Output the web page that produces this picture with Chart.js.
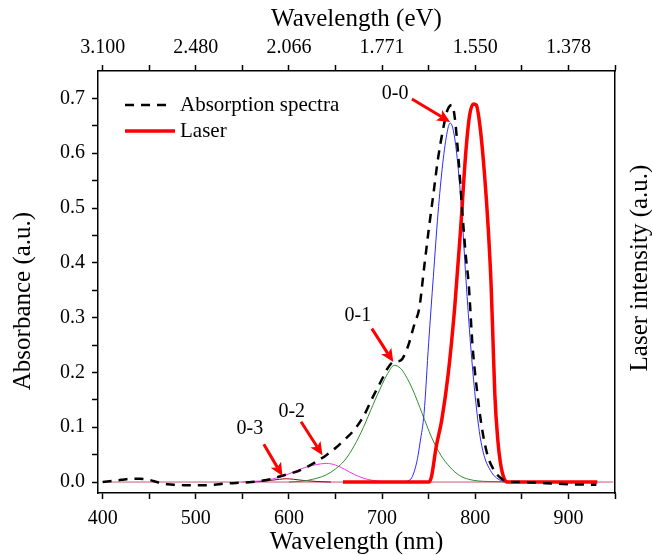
<!DOCTYPE html>
<html><head><meta charset="utf-8">
<script src="https://cdn.jsdelivr.net/npm/chart.js@4"></script>
<style>html,body{margin:0;padding:0;background:#fff;}</style>
</head><body>
<canvas id="c" width="652" height="555"></canvas>
<script>
// ---- axis ticks ----
const wavelengthTicks = [400,450,500,550,600,650,700,750,800,850,900,950];
const majorWavelengths = [400,500,600,700,800,900];
const topTickLabels = ['3.100','2.480','2.066','1.771','1.550','1.378'];
const absorbanceTicks = [0,0.05,0.1,0.15,0.2,0.25,0.3,0.35,0.4,0.45,0.5,0.55,0.6,0.65,0.7];
const absorbanceLabels = ['0.0','','0.1','','0.2','','0.3','','0.4','','0.5','','0.6','','0.7'];

// ---- series ----
const absX = [400,410,420,430,440,450,460,470,480,490,500,510,520,530,540,550,560,570,580,590,600,610,620,630,640,650,660,670,680,690,700,705,712,720,727,735,740,745,750,755,760,765,770,775,778,782,786,790,793,797,802,807,813,820,829,840,850,875,900,930];
const absY = [0.000,0.002,0.004,0.006,0.006,0.004,-0.001,-0.004,-0.005,-0.006,-0.006,-0.006,-0.005,-0.003,-0.002,-0.001,0.000,0.002,0.005,0.010,0.015,0.020,0.028,0.038,0.049,0.062,0.078,0.095,0.120,0.155,0.188,0.205,0.219,0.222,0.244,0.290,0.318,0.390,0.460,0.525,0.590,0.640,0.678,0.688,0.665,0.590,0.495,0.410,0.360,0.250,0.165,0.100,0.050,0.022,0.005,0.000,0.000,-0.002,-0.004,-0.005];

const laserX = [658,750,753,758,764,771,778,784,790,794,798,801,805,810,814,817,819,821,824,827,831,835,931];
const laserY = [0,0,0.010,0.064,0.113,0.198,0.320,0.455,0.605,0.670,0.690,0.688,0.650,0.560,0.460,0.360,0.260,0.160,0.080,0.035,0.006,0,0];

const peak00X = [720,730,737,741,745,750,755,760,765,770,773,776,780,785,790,795,800,805,810,815,820,826,835];
const peak00Y = [0.000,0.004,0.035,0.075,0.125,0.255,0.375,0.490,0.580,0.640,0.655,0.645,0.600,0.505,0.370,0.250,0.155,0.085,0.045,0.025,0.012,0.004,0.000];

const peak01X = [600,610,620,630,640,650,660,670,680,690,700,705,713,720,725,733,743,753,763,773,783,793,803,815,840];
const peak01Y = [0.000,0.001,0.003,0.007,0.013,0.024,0.040,0.066,0.100,0.140,0.178,0.195,0.213,0.207,0.195,0.168,0.125,0.082,0.049,0.027,0.012,0.005,0.002,0.001,0.000];

const peak02X = [550,560,575,590,600,610,620,630,640,650,660,670,680,690,700,715];
const peak02Y = [0.000,0.001,0.003,0.009,0.015,0.022,0.028,0.032,0.034,0.031,0.023,0.014,0.007,0.003,0.001,0.000];

const peak03X = [555,570,580,590,597,605,615,630,645];
const peak03Y = [0.000,0.001,0.003,0.005,0.006,0.005,0.003,0.001,0.000];

const baseX = [400,948];
const baseY = [0,0];

// ---- annotations (data units) ----
const arrowLabels = ['0-0','0-1','0-2','0-3'];
const arrowFromX = [732,689,613,573];
const arrowFromY = [0.699,0.280,0.110,0.069];
const arrowToX = [773,712,636,593];
const arrowToY = [0.657,0.219,0.049,0.011];
const labelX = [714,674,603,558];
const labelY = [0.709,0.304,0.128,0.098];

const legendLabels = ['Absorption spectra','Laser'];
const FONT = '"Liberation Serif","Times New Roman",serif';

function pts(xs, ys){ return xs.map((x,i)=>({x:x,y:ys[i]})); }

const decor = {
  id:'decor',
  afterDatasetsDraw(chart){
    const ctx = chart.ctx, xs = chart.scales.x, ys = chart.scales.y, ca = chart.chartArea;
    ctx.save();
    for (let i=0;i<arrowLabels.length;i++){
      const x1=xs.getPixelForValue(arrowFromX[i]), y1=ys.getPixelForValue(arrowFromY[i]);
      const x2=xs.getPixelForValue(arrowToX[i]), y2=ys.getPixelForValue(arrowToY[i]);
      const a=Math.atan2(y2-y1,x2-x1), hl=13, hw=6;
      const bx=x2-hl*Math.cos(a), by=y2-hl*Math.sin(a);
      ctx.strokeStyle='#ff0000'; ctx.fillStyle='#ff0000'; ctx.lineWidth=3; ctx.lineCap='butt';
      ctx.beginPath(); ctx.moveTo(x1,y1); ctx.lineTo(bx+3*Math.cos(a),by+3*Math.sin(a)); ctx.stroke();
      ctx.beginPath(); ctx.moveTo(x2,y2);
      ctx.lineTo(bx - hw*Math.sin(a), by + hw*Math.cos(a));
      ctx.lineTo(bx + 3*Math.cos(a), by + 3*Math.sin(a));
      ctx.lineTo(bx + hw*Math.sin(a), by - hw*Math.cos(a));
      ctx.closePath(); ctx.fill();
      ctx.fillStyle='#000'; ctx.font='20px '+FONT; ctx.textAlign='center'; ctx.textBaseline='middle';
      ctx.fillText(arrowLabels[i], xs.getPixelForValue(labelX[i]), ys.getPixelForValue(labelY[i]));
    }
    // legend
    const lx = ca.left + 27, ly1 = ca.top + 34, ly2 = ca.top + 60;
    ctx.strokeStyle='#000'; ctx.lineWidth=2.5; ctx.setLineDash([9,7]);
    ctx.beginPath(); ctx.moveTo(lx,ly1); ctx.lineTo(lx+46,ly1); ctx.stroke();
    ctx.setLineDash([]);
    ctx.strokeStyle='#ff0000'; ctx.lineWidth=3.5;
    ctx.beginPath(); ctx.moveTo(lx,ly2); ctx.lineTo(lx+50,ly2); ctx.stroke();
    ctx.fillStyle='#000'; ctx.font='21px '+FONT; ctx.textAlign='left'; ctx.textBaseline='middle';
    ctx.fillText(legendLabels[0], lx+55, ly1);
    ctx.fillText(legendLabels[1], lx+55, ly2);
    // vertical titles
    ctx.font='25px '+FONT; ctx.textAlign='center'; ctx.textBaseline='middle';
    ctx.save(); ctx.translate(23, 301); ctx.rotate(-Math.PI/2); ctx.fillText('Absorbance (a.u.)',0,0); ctx.restore();
    ctx.save(); ctx.translate(640, 268); ctx.rotate(-Math.PI/2); ctx.fillText('Laser intensity (a.u.)',0,0); ctx.restore();
    ctx.restore();
  }
};

const tickFont = {family:FONT, size:20};
const axisGrid = {drawOnChartArea:false, drawTicks:true, tickLength:6, color:'#000', tickColor:'#000', tickWidth:1.5};
const axisBorder = {display:true, color:'#000', width:1.5};

new Chart(document.getElementById('c'), {
  type:'line',
  data:{datasets:[
    {label:'Absorption spectra', data:pts(absX,absY), borderColor:'#000', borderWidth:2.5, borderDash:[9,7], pointRadius:0, cubicInterpolationMode:'monotone'},
    {label:'Laser', data:pts(laserX,laserY), borderColor:'#ff0000', borderWidth:3.5, pointRadius:0, cubicInterpolationMode:'monotone'},
    {label:'0-0', data:pts(peak00X,peak00Y), borderColor:'#2a2aff', borderWidth:1, pointRadius:0, cubicInterpolationMode:'monotone'},
    {label:'0-1', data:pts(peak01X,peak01Y), borderColor:'#2e8b2e', borderWidth:1, pointRadius:0, cubicInterpolationMode:'monotone'},
    {label:'0-2', data:pts(peak02X,peak02Y), borderColor:'#ee33ee', borderWidth:1, pointRadius:0, cubicInterpolationMode:'monotone'},
    {label:'0-3', data:pts(peak03X,peak03Y), borderColor:'#990022', borderWidth:1, pointRadius:0, cubicInterpolationMode:'monotone'},
    {label:'baseline', data:pts(baseX,baseY), borderColor:'#cc5577', borderWidth:1, pointRadius:0}
  ]},
  options:{
    responsive:false, animation:false, devicePixelRatio:1,
    layout:{padding:0},
    plugins:{legend:{display:false}, tooltip:{enabled:false}},
    scales:{
      x:{type:'linear', position:'bottom', min:395, max:950,
        afterBuildTicks(s){ s.ticks = wavelengthTicks.map(v=>({value:v})); },
        afterFit(s){ s.height = 62; },
        ticks:{autoSkip:false, maxRotation:0, color:'#000', font:tickFont, padding:8,
          callback(v){ return majorWavelengths.includes(v) ? String(v) : ''; }},
        grid:axisGrid, border:axisBorder,
        title:{display:true, text:'Wavelength (nm)', color:'#000', font:{family:FONT, size:25, lineHeight:1}, padding:{top:0,bottom:0}}
      },
      xTop:{type:'linear', position:'top', min:395, max:950,
        afterBuildTicks(s){ s.ticks = wavelengthTicks.map(v=>({value:v})); },
        afterFit(s){ s.height = 71; },
        ticks:{autoSkip:false, maxRotation:0, color:'#000', font:tickFont, padding:5,
          callback(v){ const i = majorWavelengths.indexOf(v); return i>=0 ? topTickLabels[i] : ''; }},
        grid:axisGrid, border:axisBorder,
        title:{display:true, text:'Wavelength (eV)', color:'#000', font:{family:FONT, size:25, lineHeight:1}, padding:{top:7,bottom:0}}
      },
      y:{type:'linear', position:'left', min:-0.02, max:0.75,
        afterBuildTicks(s){ s.ticks = absorbanceTicks.map(v=>({value:v})); },
        afterFit(s){ s.width = 98; },
        ticks:{autoSkip:false, color:'#000', font:tickFont, padding:7,
          callback(v){ const i = absorbanceTicks.findIndex(t=>Math.abs(t-v)<1e-9); return i>=0 ? absorbanceLabels[i] : ''; }},
        grid:axisGrid, border:axisBorder
      },
      y2:{type:'linear', position:'right', min:-0.02, max:0.75,
        afterFit(s){ s.width = 37; },
        ticks:{display:false}, grid:{display:false, drawTicks:false}, border:axisBorder
      }
    }
  },
  plugins:[decor]
});
</script>
</body></html>
